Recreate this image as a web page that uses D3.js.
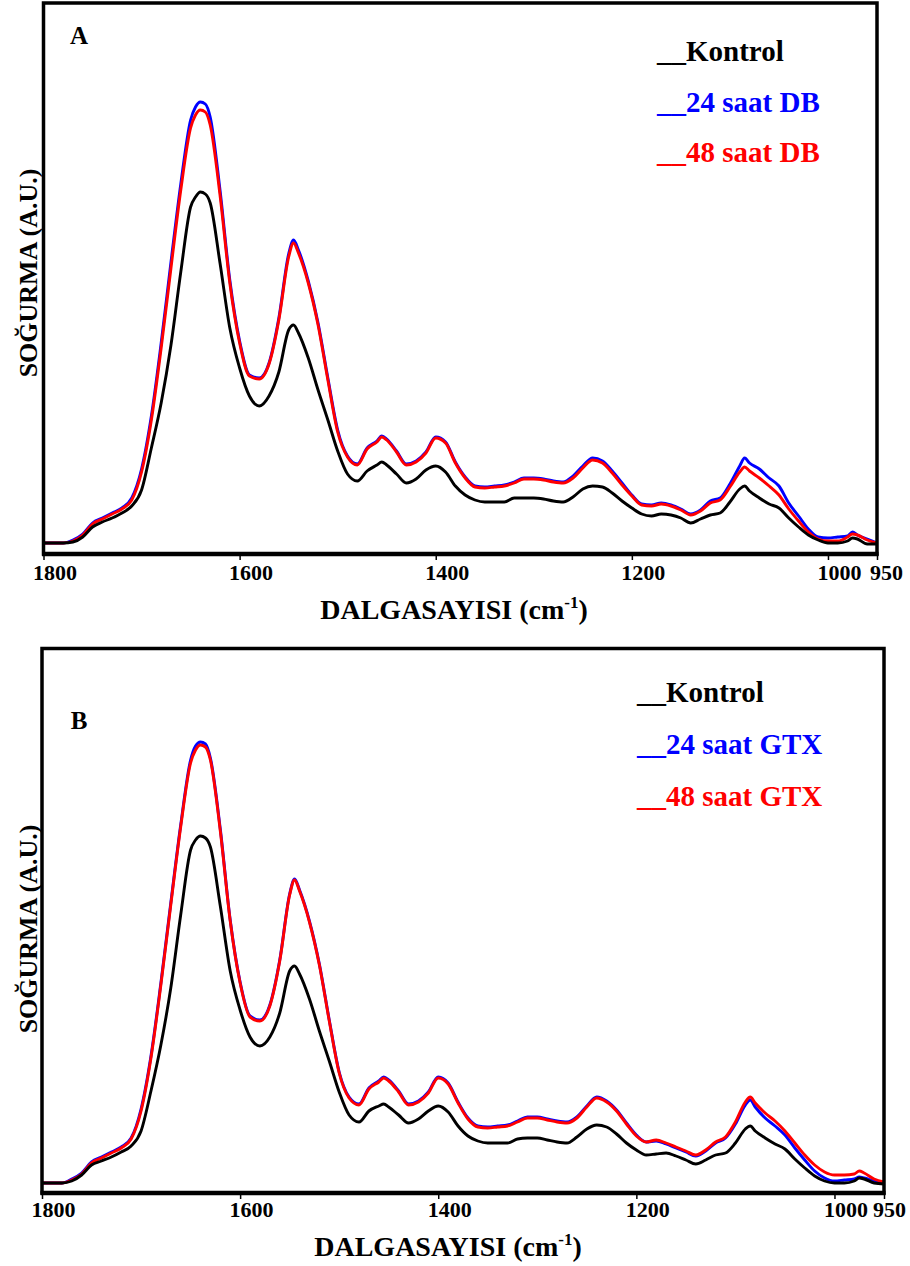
<!DOCTYPE html>
<html>
<head>
<meta charset="utf-8">
<script src="https://cdn.jsdelivr.net/npm/d3@7"></script>
<style>
  body { margin: 0; background: #fff; }
  svg { display: block; }
  text { font-family: "Liberation Serif", "Times New Roman", serif; font-weight: bold; }
</style>
</head>
<body>
<svg id="chart" width="910" height="1266"></svg>
<script>
// wavenumber grid (cm-1)
const wavenumbers = [1800,1790,1780,1770,1760,1750,1740,1730,1720,1710,1700,1690,1680,1670,1660,1650,1645,1640,1635,1630,1620,1610,1600,1590,1580,1570,1560,1550,1545,1540,1530,1520,1510,1500,1490,1480,1470,1460,1455,1450,1440,1430,1420,1410,1400,1390,1380,1370,1360,1350,1340,1330,1320,1310,1300,1290,1280,1270,1260,1250,1240,1230,1220,1210,1200,1190,1180,1170,1160,1150,1140,1130,1120,1110,1100,1090,1085,1080,1070,1060,1050,1040,1030,1020,1010,1000,990,980,975,970,960,950];

// panel A absorbance (arbitrary units)
const kontrolA = [11,11,11,12,17,27,32,36,41,48, 64,106,151,209,282,347, 357,362,360,351, 291,226,186,158,148,158,182,224, 229, 221,196,164,134,103,80,73,83,89, 92, 89,80,71,75,84,88,82,68,59,54, 52,52,52,56,56,56,55,53,52,57, 65,68,67,61,53,46,40,38,40,39, 36,31,35,39,41,52,65, 68, 63,56,50,46,36,27,19,14,11,11,13, 16, 15,10,10];
const db24 = [11,11,11,14,20,31,36,41,46,56, 85,138,211,292,370,434, 447,452,450,437, 364,274,213,179,176,191,236,300, 314, 304,273,231,176,124,98,90,106,113, 118, 115,103,90,93,102,117,112,92,77,68, 67,68,69,72,76,76,75,73,72,78, 88,96,93,83,71,59,50,49,51,49, 45,40,44,53,56,70,88, 96, 91,85,76,68,51,38,25,17,16,17,18, 22, 19,15,11];
const db48 = [11,11,11,13,19,30,35,40,45,54, 82,134,206,286,364,426, 439,444,442,429, 359,271,211,178,175,190,234,297, 311, 301,271,229,174,122,97,89,105,112, 117, 114,102,89,92,101,116,111,91,76,67, 66,67,68,71,75,75,74,72,71,76, 86,94,91,81,69,58,49,48,50,48, 44,39,43,51,54,67,82, 87, 83,76,68,59,45,33,22,15,13,13,17, 20, 19,14,11];

// panel B absorbance (arbitrary units)
const kontrolB = [10,10,10,12,18,28,32,36,41,47, 62,102,148,205,278,343, 353,357,355,346, 287,222,183,156,147,156,180,222, 227, 219,194,162,132,101,78,71,82,87, 89, 86,78,70,74,82,87,81,67,57,52, 50,50,50,54,55,55,53,51,50,56, 64,68,66,59,50,43,38,39,40,37, 33,29,33,38,40,50,64, 67, 62,55,49,44,34,25,17,12,10,10,12, 15, 14,10,9];
const gtx24 = [10,10,10,14,20,31,36,41,46,55, 84,137,210,290,368,433, 447,451,449,435, 364,273,211,177,173,188,233,299, 314, 303,272,229,173,121,96,89,105,112, 116, 113,102,89,92,101,116,110,91,75,67, 66,67,68,72,76,76,74,72,71,76, 87,96,92,83,70,58,51,52,49,45, 41,37,42,50,55,69,88, 93, 86,75,67,58,45,33,22,15,12,13,14, 16, 15,12,10];
const gtx48 = [10,10,10,13,19,30,35,40,45,54, 82,135,208,288,366,430, 443,448,446,433, 362,272,210,176,172,187,232,298, 313, 302,271,228,172,120,95,88,104,111, 115, 112,101,88,91,100,115,109,90,74,66, 65,66,67,71,75,75,73,71,70,75, 86,95,91,82,69,57,51,53,50,46, 42,38,43,51,56,71,91, 96, 90,80,72,62,50,38,28,21,18,18,19, 22, 20,14,11];

const xTicks = [1800, 1600, 1400, 1200, 1000, 950];
const legendA = ["__Kontrol", "__24 saat DB", "__48 saat DB"];
const legendB = ["__Kontrol", "__24 saat GTX", "__48 saat GTX"];
const colors = ["#000000", "#0000ff", "#ff0000"];

const svg = d3.select("#chart");

function drawPanel(p) {
    const g = svg.append("g");

    const x = d3.scaleLinear().domain([1800, 950]).range([p.left, p.right]);
    const y = d3.scaleLinear().domain([0, p.yMax]).range([p.bottom, p.top]);

    const line = d3.line()
        .x((d, i) => x(wavenumbers[i]))
        .y(d => y(d))
        .curve(d3.curveMonotoneX);

    // blue below red, black last
    [[p.series[1], colors[1]], [p.series[2], colors[2]], [p.series[0], colors[0]]].forEach(s => {
        g.append("path")
            .datum(s[0])
            .attr("d", line)
            .attr("fill", "none")
            .attr("stroke", s[1])
            .attr("stroke-width", 2.9)
            .attr("stroke-linejoin", "round");
    });

    // frame
    g.append("rect")
        .attr("x", p.left).attr("y", p.top)
        .attr("width", p.right - p.left).attr("height", p.bottom - p.top)
        .attr("fill", "none").attr("stroke", "#000").attr("stroke-width", 3.5);
    g.append("line")
        .attr("x1", p.left - 1.5).attr("x2", p.right + 1.5)
        .attr("y1", p.bottom).attr("y2", p.bottom)
        .attr("stroke", "#000").attr("stroke-width", 4.5);

    // x axis
    const axis = g.append("g")
        .attr("transform", `translate(0,${p.bottom})`)
        .call(d3.axisBottom(x).tickValues(xTicks).tickSize(6).tickFormat(d3.format("d")));
    axis.select(".domain").remove();
    axis.selectAll(".tick line").attr("stroke", "#000").attr("stroke-width", 1.5);
    axis.selectAll(".tick text")
        .attr("y", p.tickLabelY).attr("dy", 0)
        .attr("dx", d => d === 950 ? p.lastDx : 11)
        .attr("fill", "#000").style("font-size", "22px")
        .style("font-family", "'Liberation Serif', 'Times New Roman', serif")
        .style("font-weight", "bold");

    // x title
    const title = g.append("text")
        .attr("x", p.titleX).attr("y", p.titleY)
        .attr("text-anchor", "middle")
        .style("font-size", "28px");
    title.append("tspan").text("DALGASAYISI (cm");
    title.append("tspan").attr("dy", -11).style("font-size", "17px").text("-1");
    title.append("tspan").attr("dy", 11).text(")");

    // y title
    g.append("text")
        .attr("transform", `translate(${p.yLabelX},${p.yLabelY}) rotate(-90)`)
        .attr("text-anchor", "middle")
        .style("font-size", "26px")
        .text("SOĞURMA (A.U.)");

    // panel letter
    g.append("text")
        .attr("x", p.letterX).attr("y", p.letterY)
        .attr("text-anchor", "middle")
        .style("font-size", "25px")
        .text(p.letter);

    // legend
    p.legend.forEach((t, i) => {
        g.append("text")
            .attr("x", p.legendX).attr("y", p.legendY[i])
            .attr("fill", colors[i])
            .style("font-size", "29px")
            .text(t);
    });
}

drawPanel({
    left: 43.5, right: 877, top: 3, bottom: 554, yMax: 551,
    series: [kontrolA, db24, db48], legend: legendA,
    tickLabelY: 26, lastDx: 9, titleX: 454, titleY: 619,
    yLabelX: 37, yLabelY: 273,
    letter: "A", letterX: 79, letterY: 44,
    legendX: 657, legendY: [61, 112, 162]
});

drawPanel({
    left: 42, right: 884, top: 648.5, bottom: 1193, yMax: 544.5,
    series: [kontrolB, gtx24, gtx48], legend: legendB,
    tickLabelY: 24, lastDx: 5, titleX: 448, titleY: 1256,
    yLabelX: 37, yLabelY: 929,
    letter: "B", letterX: 79, letterY: 729,
    legendX: 637, legendY: [702, 754, 806]
});
</script>
</body>
</html>
